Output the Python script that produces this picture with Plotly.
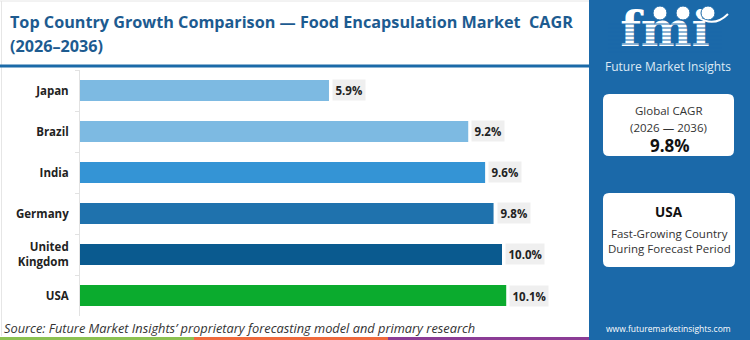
import plotly.graph_objects as go

# ---------------- data ----------------
countries = ["Japan", "Brazil", "India", "Germany", "United<br>Kingdom", "USA"]
cagr = [5.9, 9.2, 9.6, 9.8, 10.0, 10.1]
bar_colors = ["#7dbae2", "#7dbae2", "#3494d5", "#1f72ad", "#0a5a8f", "#0bab2e"]
value_labels = [f"{v:.1f}%" for v in cagr]

title_lines = ["Top Country Growth Comparison — Food Encapsulation Market  CAGR", "(2026–2036)"]
source_text = "Source: Future Market Insights’ proprietary forecasting model and primary research"
global_cagr_lines = ["Global CAGR", "(2026 — 2036)"]
global_cagr_value = "9.8%"
top_country = "USA"
top_country_lines = ["Fast-Growing Country", "During Forecast Period"]
brand = "Future Market Insights"
url = "www.futuremarketinsights.com"

# ---------------- helpers ----------------
W, H = 750, 340
PANEL = "#1b69a9"
FONT = "Open Sans"


def X(p):
    return p / W


def Y(p):
    return 1 - p / H


def rrect(x0, y0, x1, y1, r):
    a, b, c, d = X(x0), Y(y0), X(x1), Y(y1)
    rx, ry = r / W, r / H
    return (f"M {a+rx},{b} L {c-rx},{b} Q {c},{b} {c},{b-ry} "
            f"L {c},{d+ry} Q {c},{d} {c-rx},{d} L {a+rx},{d} "
            f"Q {a},{d} {a},{d+ry} L {a},{b-ry} Q {a},{b} {a+rx},{b} Z")


fig = go.Figure()
fig.add_trace(go.Bar(
    x=cagr, y=countries, orientation="h", width=0.51,
    marker=dict(color=bar_colors, line_width=0),
    hoverinfo="skip",
))

# logo text on a full-page axis so stripes (shapes above) can cover it
fig.add_trace(go.Scatter(
    x=[665], y=[34], mode="text", text=["fmi"],
    textfont=dict(family="DejaVu Serif", size=48, color="white", weight="bold"),
    xaxis="x2", yaxis="y2", hoverinfo="skip", cliponaxis=False,
))

shapes = []
# right panel
shapes.append(dict(type="rect", xref="paper", yref="paper", x0=X(589), x1=1, y0=0, y1=1,
                   fillcolor=PANEL, line_width=0, layer="below"))
# light border of chart card
shapes.append(dict(type="line", xref="paper", yref="paper", x0=X(1.5), x1=X(1.5), y0=Y(1), y1=Y(336),
                   line=dict(color="#e6e6e6", width=1)))
shapes.append(dict(type="line", xref="paper", yref="paper", x0=X(0), x1=X(589), y0=Y(1), y1=Y(1),
                   line=dict(color="#e6e6e6", width=1)))
# title underline
shapes.append(dict(type="line", xref="paper", yref="paper", x0=0, x1=X(589), y0=Y(66), y1=Y(66),
                   line=dict(color="#1b6aa8", width=3)))
# footer colour strip
for x0, x1, col in [(0, 194, "#8cc152"), (194, 388, "#ef6a3d"), (388, 589, "#8b3c95")]:
    shapes.append(dict(type="rect", xref="paper", yref="paper", x0=X(x0), x1=X(x1), y0=0, y1=Y(337),
                       fillcolor=col, line_width=0))
# info boxes
shapes.append(dict(type="path", xref="paper", yref="paper", path=rrect(603, 94, 734, 156, 6),
                   fillcolor="white", line_width=0))
shapes.append(dict(type="path", xref="paper", yref="paper", path=rrect(603, 193, 735, 267, 6),
                   fillcolor="white", line_width=0))
# logo stripes
for yy in range(24, 56, 4):
    shapes.append(dict(type="line", xref="paper", yref="paper", x0=X(608), x1=X(722), y0=Y(yy), y1=Y(yy),
                       line=dict(color=PANEL, width=1.2), layer="above"))
# logo globes
for cx in [660, 683, 708]:
    shapes.append(dict(type="circle", xref="paper", yref="paper", x0=X(cx - 7), x1=X(cx + 7),
                       y0=Y(6), y1=Y(20), fillcolor="white", line=dict(color=PANEL, width=1)))
shapes.append(dict(type="path", xref="paper", yref="paper",
                   path=f"M {X(698)},{Y(17)} Q {X(714)},{Y(28)} {X(728)},{Y(14)}",
                   line=dict(color="white", width=2)))

annotations = []
for txt, yy in zip(title_lines, [22, 46]):
    annotations.append(dict(xref="paper", yref="paper", x=X(8), y=Y(yy), xanchor="left", yanchor="middle",
                            align="left", showarrow=False, text=txt,
                            font=dict(family=FONT, size=16.2, color="#1d5b90", weight="bold")))
for c, v, lab in zip(countries, cagr, value_labels):
    annotations.append(dict(xref="x", yref="y", x=v, y=c, xanchor="left", yanchor="middle",
                            xshift=3, showarrow=False, text=lab, bgcolor="#efefef", borderpad=2.5,
                            font=dict(family=FONT, size=11.5, color="#222222", weight="bold")))
annotations.append(dict(xref="paper", yref="paper", x=X(2), y=Y(328), xanchor="left", yanchor="middle",
                        showarrow=False, text=f"<i>{source_text}</i>",
                        font=dict(family=FONT, size=12.8, color="#333333")))
annotations.append(dict(xref="paper", yref="paper", x=X(668), y=Y(67), xanchor="center", yanchor="middle",
                        showarrow=False, text=brand, font=dict(family=FONT, size=12, color="#dde9f5")))
for txt, yy in zip(global_cagr_lines, [111, 127]):
    annotations.append(dict(xref="paper", yref="paper", x=X(668), y=Y(yy), xanchor="center", yanchor="middle",
                            showarrow=False, text=txt, font=dict(family=FONT, size=11.5, color="#333333")))
annotations.append(dict(xref="paper", yref="paper", x=X(670), y=Y(145), xanchor="center", yanchor="middle",
                        showarrow=False, text=global_cagr_value,
                        font=dict(family=FONT, size=17, color="#111111", weight="bold")))
annotations.append(dict(xref="paper", yref="paper", x=X(669), y=Y(212), xanchor="center", yanchor="middle",
                        showarrow=False, text=top_country,
                        font=dict(family=FONT, size=13.5, color="#111111", weight="bold")))
for txt, yy in zip(top_country_lines, [233, 249]):
    annotations.append(dict(xref="paper", yref="paper", x=X(669), y=Y(yy), xanchor="center", yanchor="middle",
                            showarrow=False, text=txt, font=dict(family=FONT, size=11.5, color="#333333")))
annotations.append(dict(xref="paper", yref="paper", x=X(668), y=Y(328), xanchor="center", yanchor="middle",
                        showarrow=False, text=url, font=dict(family=FONT, size=8.5, color="#ffffff")))

fig.update_layout(
    width=W, height=H, margin=dict(l=0, r=0, t=0, b=0),
    paper_bgcolor="white", plot_bgcolor="rgba(0,0,0,0)", showlegend=False,
    xaxis=dict(domain=[X(80), X(580)], range=[0, 500 / 42.2], visible=False, fixedrange=True),
    yaxis=dict(domain=[Y(316), Y(70)], categoryorder="array", categoryarray=countries,
               range=[5.5, -0.5], showline=True, linecolor="#e2e2e2", linewidth=1,
               ticks="outside", tickson="boundaries", ticklen=4, tickcolor="#e2e2e2",
               ticklabelstandoff=8,
               tickfont=dict(family=FONT, size=11.5, color="#222222", weight="bold"),
               showgrid=False, zeroline=False, fixedrange=True),
    xaxis2=dict(domain=[0, 1], range=[0, W], visible=False, anchor="y2", fixedrange=True),
    yaxis2=dict(domain=[0, 1], range=[H, 0], visible=False, anchor="x2", fixedrange=True),
    shapes=shapes, annotations=annotations,
)

fig.write_html("out.html")
